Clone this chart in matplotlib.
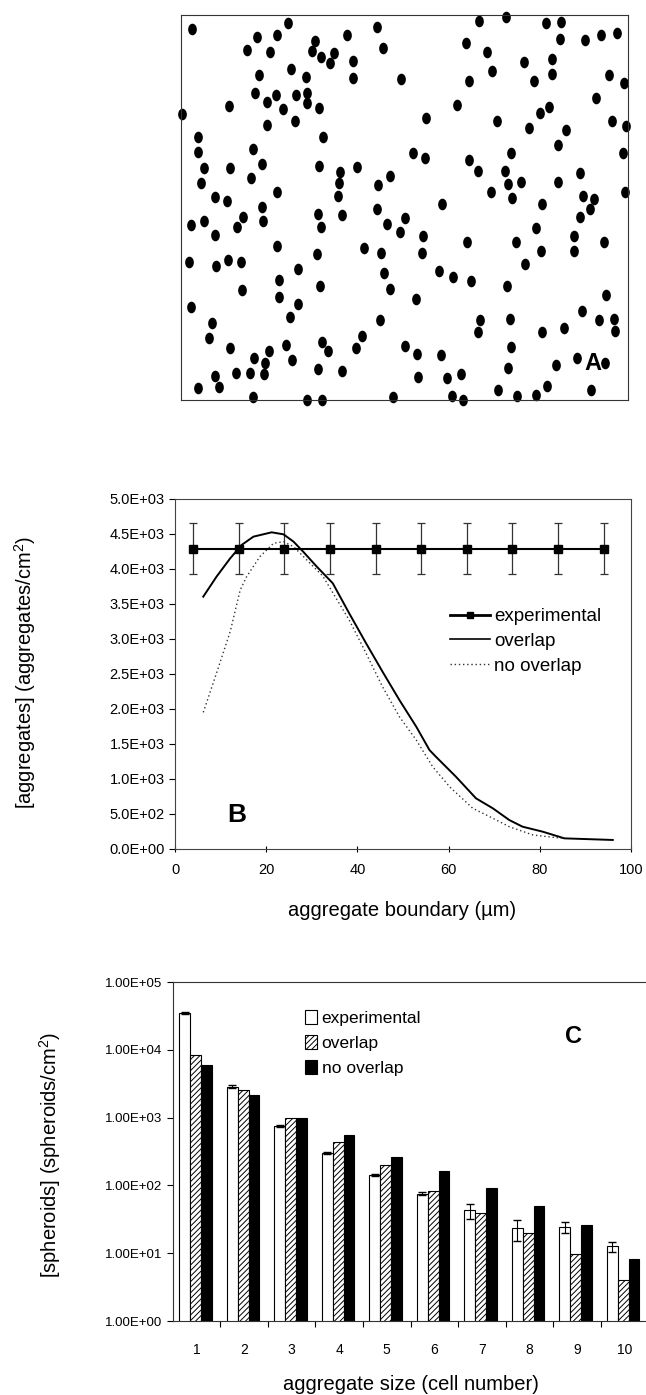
import numpy as np
import matplotlib
matplotlib.use('Agg')
import matplotlib.pyplot as plt
from matplotlib.path import Path
from matplotlib.transforms import Affine2D
from matplotlib.lines import Line2D
from matplotlib.ticker import FuncFormatter, NullLocator

plt.rcParams['font.family'] = ['Liberation Sans', 'DejaVu Sans']
plt.rcParams['mathtext.default'] = 'regular'
plt.rcParams['hatch.linewidth'] = 0.7

# Panel A: cell positions in the micrograph field (image units, y down)
cell_x = [67, 355, 262, 322, 230, 300, 435, 425, 452, 492,
          480, 532, 548, 550, 620, 640, 362, 268, 408, 255,
          318, 378, 410, 290, 410, 340, 448, 176, 290, 376,
          35, 460, 695, 768, 862, 928, 1008, 1130, 1175, 1172,
          890, 953, 968, 1062, 897, 1093, 1148, 1148, 1245, 1293,
          1342, 1318, 1362, 1278, 1138, 1112, 982, 1078, 1190, 1328,
          1368, 1165, 1025, 1360, 898, 925, 1005, 1015, 1055, 963,
          1027, 1165, 1230, 1240, 1272, 1262, 1232, 1365, 1118, 1100,
          1212, 1213, 1303, 1040, 1115, 1065, 892, 816, 730, 765,
          660, 625, 622, 705, 652, 690, 760, 758, 583, 632,
          643, 660, 808, 850, 905, 738, 1012, 1308, 1237, 1288,
          1333, 1335, 1182, 1118, 1022, 932, 925, 1025, 1015, 1160,
          1223, 1305, 1263, 1132, 1098, 1043, 985, 880, 848, 873,
          832, 813, 745, 742, 705, 668, 630, 575, 558, 515,
          475, 455, 445, 455, 410, 365, 348, 297, 285, 282,
          253, 240, 250, 198, 180, 135, 148, 84, 118, 126,
          62, 58, 62, 136, 103, 136, 170, 220, 200, 276,
          278, 320, 242, 276, 248, 180, 103, 92, 85, 84,
          138, 175, 212, 217, 320, 326, 326, 385, 385, 360,
          445, 453, 440, 450, 448, 510, 507, 505, 515, 560]
cell_y = [88, 70, 110, 105, 150, 155, 122, 152, 170, 160,
          188, 105, 182, 233, 82, 143, 207, 226, 230, 278,
          285, 285, 278, 307, 310, 327, 325, 318, 375, 362,
          343, 410, 236, 355, 316, 62, 50, 68, 66, 117,
          128, 155, 213, 187, 242, 243, 178, 222, 120, 105,
          100, 225, 248, 295, 322, 340, 362, 383, 390, 362,
          377, 435, 459, 460, 480, 512, 512, 552, 545, 577,
          593, 545, 518, 588, 598, 628, 652, 575, 612, 685,
          708, 752, 726, 725, 753, 793, 725, 613, 458, 475,
          528, 555, 628, 655, 673, 695, 707, 760, 745, 760,
          820, 866, 813, 832, 842, 898, 857, 886, 932, 960,
          958, 993, 985, 995, 958, 960, 995, 1042, 1103, 1095,
          1073, 1090, 1170, 1158, 1185, 1187, 1170, 1200, 1188, 1122,
          1133, 1065, 1130, 1062, 1038, 1192, 960, 1008, 1045, 1113,
          1052, 1025, 1108, 1200, 1200, 1080, 1035, 1052, 1090, 1122,
          1075, 1120, 1190, 1118, 1043, 1127, 1162, 1165, 1015, 968,
          920, 785, 675, 705, 662, 590, 602, 650, 680, 622,
          662, 575, 535, 492, 447, 505, 503, 550, 455, 412,
          798, 780, 787, 870, 737, 840, 890, 808, 913, 952,
          643, 680, 763, 857, 498, 517, 550, 587, 645, 502]
field_x = (33, 1375)
field_y = (1200, 45)

# Panel B: aggregates vs aggregate boundary
bound_exp = [4, 14, 24, 34, 44, 54, 64, 74, 84, 94]
conc_exp = [4290, 4290, 4290, 4290, 4290, 4290, 4290, 4290, 4290, 4290]
conc_exp_err = [360, 360, 360, 360, 360, 360, 360, 360, 360, 360]
bound_ov = [6.2, 9.1, 12.1, 14.6, 17.2, 21.2, 23.8, 26, 28.1, 31.1, 34.6, 38.2, 41.9,
            45.5, 49.2, 52.9, 55.8, 57.2, 61.6, 66, 69.7, 73.3, 76.2, 80.6, 85.4, 96]
conc_ov = [3605, 3890, 4152, 4343, 4462, 4524, 4495, 4390, 4248, 4033, 3796, 3367, 2939,
           2534, 2129, 1748, 1414, 1319, 1033, 724, 581, 414, 319, 248, 152, 129]
bound_noov = [6.2, 9.1, 12.1, 14.3, 15.7, 18.6, 21.6, 23.8, 26, 28.9, 32.4, 38.2, 41.9,
              45.5, 49.2, 52.9, 56.5, 60.2, 65.3, 69, 73.3, 78.5, 85]
conc_noov = [1952, 2510, 3105, 3700, 3890, 4176, 4367, 4390, 4319, 4129, 3900, 3271, 2796,
             2319, 1890, 1557, 1176, 890, 581, 462, 319, 200, 152]

# Panel C: spheroids vs aggregate size
sizes = [1, 2, 3, 4, 5, 6, 7, 8, 9, 10]
sph_exp = [35300, 2870, 755, 302, 142, 76, 43, 23.2, 24.5, 12.7]
sph_exp_err = [1500, 120, 30, 12, 6, 3.5, 11, 8, 4.6, 2.1]
sph_ov = [8300, 2535, 1000, 439, 203, 82, 38.6, 19.6, 9.9, 4.0]
sph_noov = [5920, 2140, 1000, 563, 264, 162, 93, 49.5, 26, 8.1]

fig = plt.figure(figsize=(6.46, 13.95), dpi=100)

# ---- A ----
axA = fig.add_axes([0.2802, 0.7133, 0.6919, 0.2760])
ell = Path.unit_circle().transformed(Affine2D().scale(0.75, 1.0))
axA.scatter(cell_x, cell_y, s=70, marker=ell, c='black', linewidths=0, clip_on=False)
axA.set_xlim(*field_x)
axA.set_ylim(*field_y)
axA.set_xticks([])
axA.set_yticks([])
for sp in axA.spines.values():
    sp.set_linewidth(0.8)
    sp.set_color('#333333')
axA.text(1270, 1090, 'A', fontsize=17, fontweight='bold', ha='center', va='center',
         family=['Liberation Sans Narrow', 'Liberation Sans'])

# ---- B ----
axB = fig.add_axes([0.2709, 0.3914, 0.7059, 0.2509])
axB.errorbar(bound_exp, conc_exp, yerr=conc_exp_err, color='black', lw=1.5, marker='s', ms=6,
             ecolor='#333333', elinewidth=0.9, capsize=3, capthick=0.9)
axB.plot(bound_ov, conc_ov, color='black', lw=1.4)
axB.plot(bound_noov, conc_noov, color='#333333', lw=1.0, ls=(0, (1, 2)))
axB.set_xlim(0, 100)
axB.set_ylim(0, 5000)
axB.set_xticks(np.arange(0, 101, 20))
axB.set_yticks(np.arange(0, 5001, 500))
axB.yaxis.set_major_formatter(FuncFormatter(lambda v, p: f'{v:.1E}'))
axB.tick_params(axis='both', labelsize=10.5, width=0.8, length=4)
axB.tick_params(axis='x', direction='inout', pad=8)
for sp in axB.spines.values():
    sp.set_linewidth(0.8)
    sp.set_color('#444444')
handles_b = [Line2D([], [], color='black', lw=2.0, marker='s', ms=5),
             Line2D([], [], color='black', lw=1.2),
             Line2D([], [], color='#333333', lw=1.0, ls=(0, (1, 2)))]
axB.legend(handles_b, ['experimental', 'overlap', 'no overlap'], loc='upper left',
           bbox_to_anchor=(0.604, 0.688), frameon=False, fontsize=13.5,
           handlelength=2.1, handletextpad=0.25, labelspacing=0.4, borderaxespad=0, borderpad=0)
axB.text(0.136, 0.097, 'B', transform=axB.transAxes, fontsize=19, fontweight='bold',
         ha='center', va='center')
fig.text(25 / 646, 1 - 672 / 1395, '[aggregates] (aggregates/cm$^2$)', rotation=90,
         fontsize=14.5, ha='center', va='center')
fig.text(402 / 646, 1 - 911 / 1395, 'aggregate boundary (µm)', fontsize=14.5,
         ha='center', va='center')

# ---- C ----
axC = fig.add_axes([0.2678, 0.0530, 0.7353, 0.2430])
w = 0.23
x = np.array(sizes) - 0.025
axC.bar(x - w, sph_exp, w, color='white', edgecolor='black', lw=0.8, yerr=sph_exp_err,
        error_kw=dict(elinewidth=0.8, capsize=3, capthick=1.0, ecolor='black'), label='experimental')
axC.bar(x, sph_ov, w, color='white', edgecolor='black', hatch='//////', lw=0.8, label='overlap')
axC.bar(x + w, sph_noov, w, color='black', edgecolor='black', lw=0.8, label='no overlap')
axC.set_yscale('log')
axC.set_ylim(1, 1e5)
axC.set_xlim(0.5, 10.5)
axC.yaxis.set_minor_locator(NullLocator())
axC.set_yticks([1, 10, 100, 1e3, 1e4, 1e5])
axC.yaxis.set_major_formatter(FuncFormatter(lambda v, p: f'{v:.2E}'))
axC.set_xticks(sizes)
axC.set_xticks(np.arange(1.5, 10.5, 1), minor=True)
axC.tick_params(axis='x', which='major', length=0, labelsize=10, pad=16)
axC.tick_params(axis='x', which='minor', length=4, width=0.8)
axC.tick_params(axis='y', labelsize=9.5, length=4, width=0.8)
axC.spines['right'].set_visible(False)
for s in ['left', 'bottom', 'top']:
    axC.spines[s].set_linewidth(0.8)
    axC.spines[s].set_color('#333333')
axC.legend(loc='upper left', bbox_to_anchor=(0.278, 0.918), frameon=False, fontsize=12.5,
           handlelength=0.7, handleheight=0.9, handletextpad=0.25, labelspacing=0.5,
           borderaxespad=0, borderpad=0)
axC.text(0.844, 0.838, 'C', transform=axC.transAxes, fontsize=17, fontweight='bold',
         ha='center', va='center')
fig.text(50 / 646, 1 - 1155 / 1395, '[spheroids] (spheroids/cm$^2$)', rotation=90,
         fontsize=14.5, ha='center', va='center')
fig.text(411 / 646, 1 - 1384 / 1395, 'aggregate size (cell number)', fontsize=14.5,
         ha='center', va='center')

fig.savefig('out.png', dpi=100)
